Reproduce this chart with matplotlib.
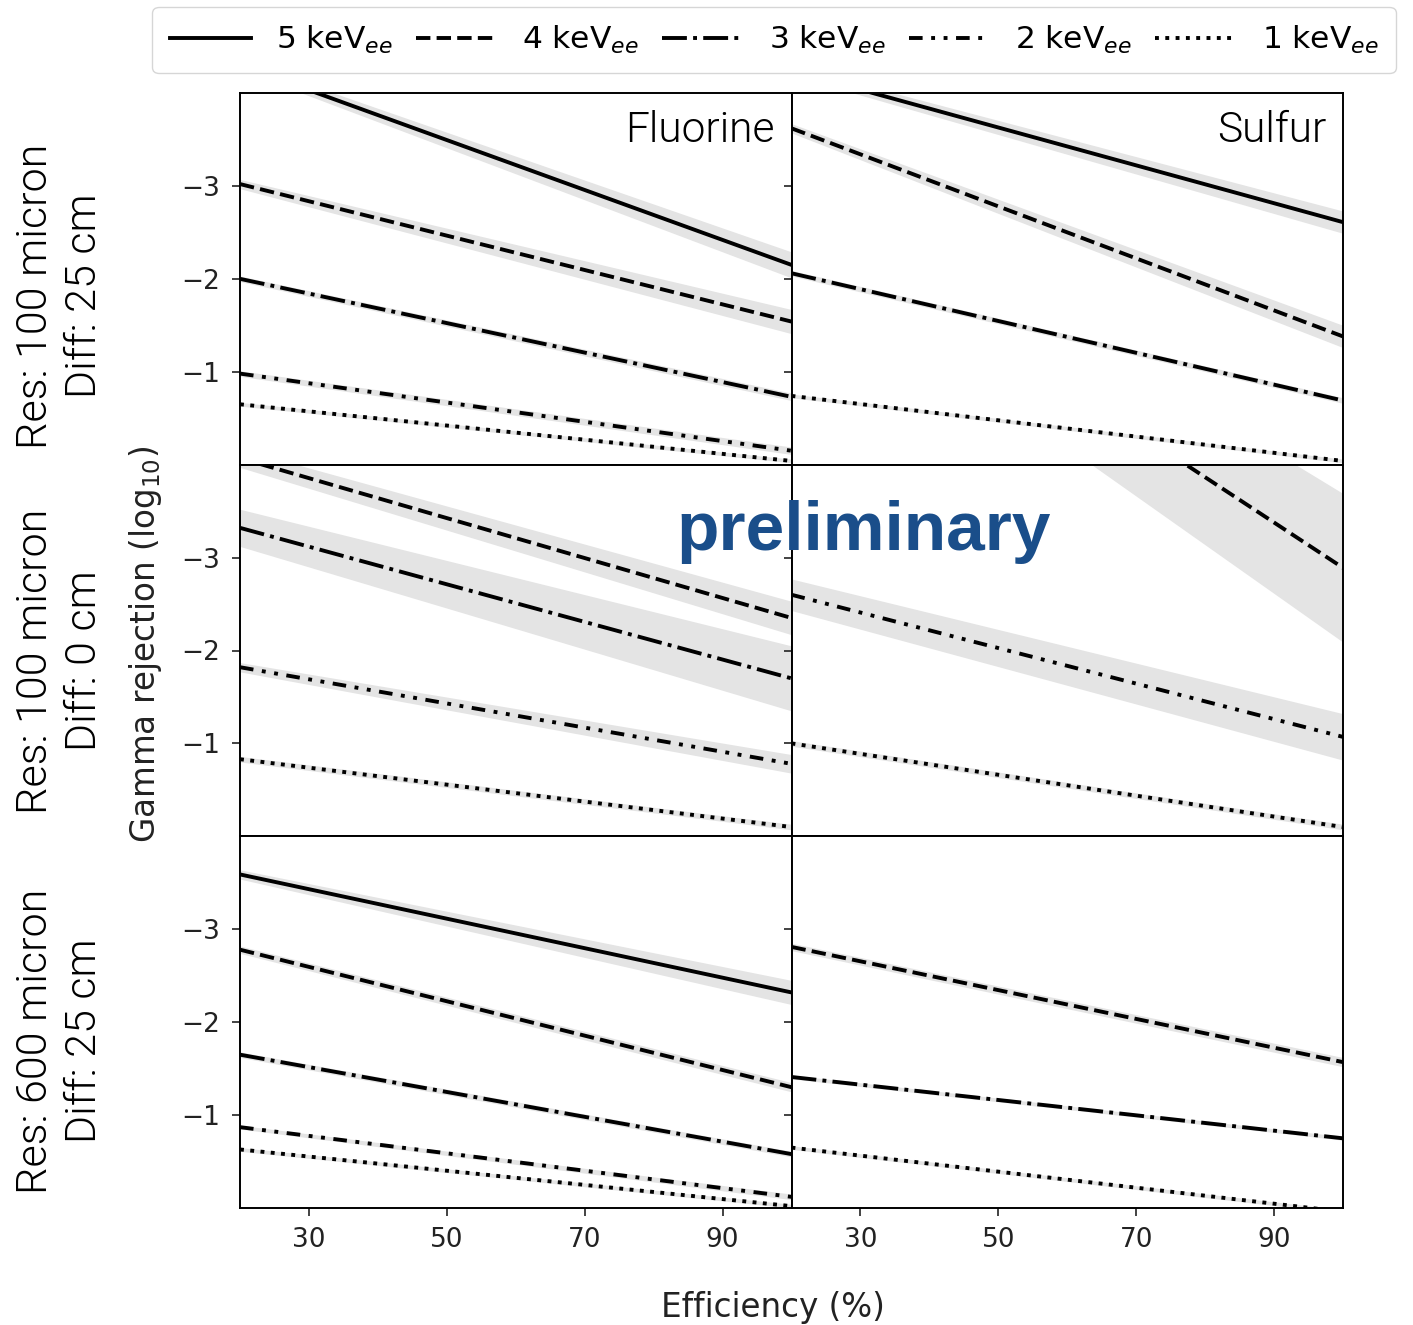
import matplotlib
matplotlib.use("Agg")
import matplotlib.pyplot as plt
import numpy as np

# efficiency (%) at the two ends of every curve
eff = [20, 100]

energies = [5, 4, 3, 2, 1]
labels = ["5 keV$_{ee}$", "4 keV$_{ee}$", "3 keV$_{ee}$", "2 keV$_{ee}$", "1 keV$_{ee}$"]

# log10 gamma rejection at eff = 20 and 100, per panel and energy
fl_100_25 = {5: [-4.30, -2.15], 4: [-3.02, -1.54], 3: [-2.00, -0.73], 2: [-0.98, -0.15], 1: [-0.65, -0.04]}
su_100_25 = {5: [-4.24, -2.61], 4: [-3.62, -1.38], 3: [-2.06, -0.69], 1: [-0.74, -0.04]}
fl_100_0 = {4: [-4.07, -2.35], 3: [-3.32, -1.70], 2: [-1.82, -0.78], 1: [-0.83, -0.10]}
su_100_0 = {4: [-6.79, -2.89], 2: [-2.60, -1.07], 1: [-1.00, -0.10]}
fl_600_25 = {5: [-3.59, -2.32], 4: [-2.78, -1.30], 3: [-1.65, -0.58], 2: [-0.87, -0.12], 1: [-0.63, -0.02]}
su_600_25 = {4: [-2.81, -1.57], 3: [-1.41, -0.75], 1: [-0.65, 0.04]}

# half width of the grey uncertainty band at eff = 20 and 100
fl_100_25_err = {5: [0.05, 0.14], 4: [0.05, 0.13], 3: [0.03, 0.04], 2: [0.03, 0.04], 1: [0.02, 0.02]}
su_100_25_err = {5: [0.05, 0.12], 4: [0.05, 0.12], 3: [0.03, 0.03], 1: [0.02, 0.02]}
fl_100_0_err = {4: [0.10, 0.18], 3: [0.20, 0.35], 2: [0.05, 0.10], 1: [0.03, 0.03]}
su_100_0_err = {4: [0.51, 0.80], 2: [0.17, 0.25], 1: [0.03, 0.03]}
fl_600_25_err = {5: [0.05, 0.13], 4: [0.04, 0.05], 3: [0.03, 0.03], 2: [0.02, 0.03], 1: [0.02, 0.02]}
su_600_25_err = {4: [0.04, 0.05], 3: [0.02, 0.02], 1: [0.02, 0.02]}

panels = [[(fl_100_25, fl_100_25_err), (su_100_25, su_100_25_err)],
          [(fl_100_0, fl_100_0_err), (su_100_0, su_100_0_err)],
          [(fl_600_25, fl_600_25_err), (su_600_25, su_600_25_err)]]

row_labels = ["Res: 100 micron\nDiff: 25 cm", "Res: 100 micron\nDiff: 0 cm", "Res: 600 micron\nDiff: 25 cm"]
row_centers = [296, 661, 1041]  # pixel y of the row label centres
targets = ["Fluorine", "Sulfur"]

styles = {5: "-", 4: (0, (3.7, 1.6)), 3: (0, (6.4, 1.6, 1, 1.6)),
          2: (0, (3.5, 2.2, 1, 2.2, 1, 2.2)), 1: (0, (1, 1.65))}
light = ["Roboto", "DejaVu Sans"]

W, H = 1413, 1325
fig, axes = plt.subplots(3, 2, figsize=(W / 100, H / 100), dpi=100, sharex=True, sharey=True)
fig.subplots_adjust(left=240 / W, right=1343 / W, top=1 - 93 / H, bottom=1 - 1208 / H,
                    hspace=0, wspace=0)

x = np.array(eff)
handles = {}
for r in range(3):
    for c in range(2):
        ax = axes[r, c]
        data, err = panels[r][c]
        for e in energies:
            if e not in data:
                continue
            y = np.array(data[e])
            w = np.array(err[e])
            ax.fill_between(x, y - w, y + w, color="#e4e4e4", lw=0, zorder=1)
            ln, = ax.plot(x, y, color="black", lw=2.8, ls=styles[e], zorder=2)
            handles[e] = ln
        ax.set_xlim(20, 100)
        ax.set_ylim(0, -4)
        ax.set_xticks([30, 50, 70, 90])
        ax.set_yticks([-3, -2, -1])
        ax.tick_params(labelsize=19, length=6, width=1.2, pad=8, colors="#222222")
        for s in ax.spines.values():
            s.set_linewidth(1.4)

for c, name in enumerate(targets):
    axes[0, c].text(0.97, 0.898, name, transform=axes[0, c].transAxes, ha="right", va="center",
                    fontsize=30.5, family=light, fontweight=300)

for r, lab in enumerate(row_labels):
    fig.text(60 / W, 1 - row_centers[r] / H, lab, rotation=90, ha="center", va="center",
             multialignment="center", fontsize=31, family=light, fontweight=300,
             linespacing=1.22)

fig.text(145 / W, 1 - 644 / H, "Gamma rejection (log$_{10}$)", rotation=90, ha="center",
         va="center", fontsize=23.5, color="#222222")
fig.text(773 / W, 1 - 1307 / H, "Efficiency (%)", ha="center", va="center", fontsize=23.5,
         color="#222222")

fig.text(864 / W, 1 - 550 / H, "preliminary", ha="center", va="baseline", fontsize=50,
         fontweight="bold", color="#1a4e8a", family=["Liberation Sans", "DejaVu Sans"])

fig.legend([handles[e] for e in energies], labels, ncol=5, loc="center",
           bbox_to_anchor=(774 / W, 1 - 40 / H), fontsize=22.5, handlelength=2.6,
           columnspacing=0.75, handletextpad=0.8, frameon=True, edgecolor="#cccccc",
           borderpad=0.55)

fig.savefig("out.png", dpi=100)
